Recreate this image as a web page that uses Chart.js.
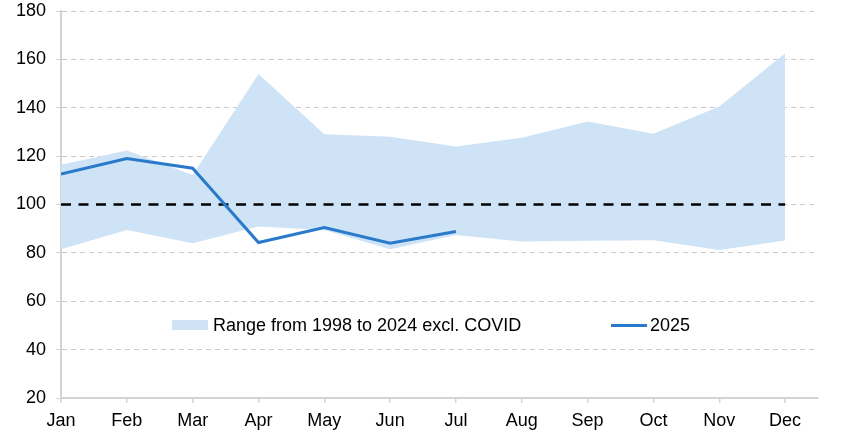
<!DOCTYPE html>
<html>
<head>
<meta charset="utf-8">
<script src="https://cdn.jsdelivr.net/npm/chart.js@4/dist/chart.umd.min.js"></script>
<style>
  html, body { margin: 0; padding: 0; background: #fff; }
  #wrap { position: relative; width: 848px; height: 435px; }
  canvas { display: block; }
  .leg { position: absolute; font-family: "Liberation Sans", Arial, sans-serif; font-size: 18px; color: #000; line-height: 18px; white-space: nowrap; }
  .sw { position: absolute; }
</style>
</head>
<body>
<div id="wrap">
  <canvas id="c" width="848" height="435"></canvas>
  <div class="sw" style="left:172px;top:320px;width:36px;height:10px;background:#cfe3f6;"></div>
  <div class="leg" style="left:213px;top:316px;">Range from 1998 to 2024 excl. COVID</div>
  <div class="sw" style="left:611px;top:324px;width:36px;height:3px;background:#2a7acb;"></div>
  <div class="leg" style="left:650px;top:316px;">2025</div>
</div>
<script>
const months = ["Jan","Feb","Mar","Apr","May","Jun","Jul","Aug","Sep","Oct","Nov","Dec"];
const rangeLow  = [81.5, 89.5, 84.0, 90.9, 89.5, 81.5, 87.4, 84.7, 85.0, 85.2, 81.2, 85.1];
const rangeHigh = [116.4, 122.3, 112.2, 154.0, 129.0, 128.0, 124.0, 127.6, 134.3, 129.2, 140.5, 162.5];
const y2025     = [112.6, 119.0, 115.0, 84.3, 90.5, 84.0, 88.8];
const baseline  = [100, 100, 100, 100, 100, 100, 100, 100, 100, 100, 100, 100];
const yTicks    = [20, 40, 60, 80, 100, 120, 140, 160, 180];

const pts = arr => arr.map((v, i) => ({ x: i, y: v }));

new Chart(document.getElementById('c'), {
  type: 'line',
  data: {
    datasets: [
      { label: 'low', data: pts(rangeLow), borderWidth: 0, pointRadius: 0, fill: false, borderColor: 'rgba(0,0,0,0)', order: 3 },
      { label: 'Range from 1998 to 2024 excl. COVID', data: pts(rangeHigh), borderWidth: 0, pointRadius: 0,
        borderColor: 'rgba(0,0,0,0)', backgroundColor: '#cfe3f6', fill: '-1', order: 3 },
      { label: 'base', data: pts(baseline), borderColor: '#000', borderWidth: 2.6, borderDash: [10, 7.5], pointRadius: 0, fill: false, order: 2 },
      { label: '2025', data: pts(y2025), borderColor: '#2a7acb', borderWidth: 3, pointRadius: 0, fill: false, order: 1, tension: 0 }
    ]
  },
  options: {
    responsive: false,
    animation: false,
    events: [],
    layout: { padding: { left: 0, right: 30, top: 11, bottom: 0 } },
    plugins: { legend: { display: false }, tooltip: { enabled: false } },
    scales: {
      x: {
        type: 'linear', min: 0, max: 11.5,
        afterBuildTicks: s => { s.ticks = months.map((_, i) => ({ value: i })); },
        afterFit: s => { s.height = 37; },
        ticks: { callback: v => months[v] ?? '', color: '#000', padding: 7, maxRotation: 0, autoSkip: false,
                 font: { family: 'Liberation Sans', size: 18 } },
        grid: { drawOnChartArea: false, drawTicks: true, tickLength: 5, color: '#d4d4d4', lineWidth: 1.5 },
        border: { color: '#d4d4d4', width: 2 }
      },
      y: {
        min: 20, max: 180,
        afterBuildTicks: s => { s.ticks = yTicks.map(v => ({ value: v })); },
        afterFit: s => { s.width = 61; s.paddingTop = 0; s.paddingBottom = 0; },
        ticks: { color: '#000', padding: 10, font: { family: 'Liberation Sans', size: 18, lineHeight: 0.01 } },
        grid: { color: '#c8c8c8', lineWidth: 1, tickLength: 5, tickColor: '#d4d4d4' },
        border: { color: '#d4d4d4', width: 2, dash: [5, 4] }
      }
    }
  }
});
</script>
</body>
</html>
